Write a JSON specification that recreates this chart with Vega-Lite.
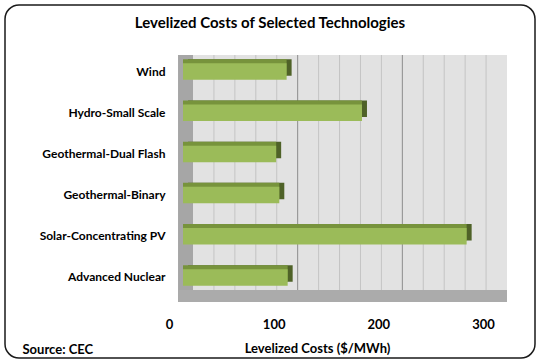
{
  "$schema": "https://vega.github.io/schema/vega-lite/v6.json",
  "width": 530,
  "height": 353,
  "autosize": {"type": "none"},
  "padding": 5,
  "background": "white",
  "config": {
    "view": {"stroke": "#1a1a1a", "strokeWidth": 1.5, "cornerRadius": 14, "fill": "white"},
    "font": "Lato",
    "axis": {"grid": false}
  },
  "title": {
    "text": "Levelized Costs of Selected Technologies",
    "fontSize": 15,
    "font": "Lato",
    "fontWeight": "bold",
    "color": "black",
    "anchor": "middle",
    "frame": "group",
    "dy": 30
  },
  "datasets": {
    "bars": [
      {"tech": "Wind", "cost": 99},
      {"tech": "Hydro-Small Scale", "cost": 171},
      {"tech": "Geothermal-Dual Flash", "cost": 89},
      {"tech": "Geothermal-Binary", "cost": 92},
      {"tech": "Solar-Concentrating PV", "cost": 271},
      {"tech": "Advanced Nuclear", "cost": 100}
    ],
    "grid": [
      {"v": 20, "kind": "minor"},
      {"v": 40, "kind": "minor"},
      {"v": 60, "kind": "minor"},
      {"v": 80, "kind": "minor"},
      {"v": 100, "kind": "major"},
      {"v": 120, "kind": "minor"},
      {"v": 140, "kind": "minor"},
      {"v": 160, "kind": "minor"},
      {"v": 180, "kind": "minor"},
      {"v": 200, "kind": "major"},
      {"v": 220, "kind": "minor"},
      {"v": 240, "kind": "minor"},
      {"v": 260, "kind": "minor"},
      {"v": 280, "kind": "minor"}
    ]
  },
  "resolve": {"scale": {"y": "independent"}},
  "layer": [
    {
      "layer": [
        {
          "data": {"values": [{}]},
          "mark": {"type": "rect", "fill": "#e2e2e2"},
          "encoding": {
            "x": {"datum": 0, "type": "quantitative", "scale": {"domain": [0, 300], "range": [188, 502]}},
            "x2": {"datum": 300},
            "y": {"datum": 0, "type": "quantitative", "scale": {"domain": [0, 1], "range": [285, 50]}, "axis": null},
            "y2": {"datum": 1}
          }
        },
        {
          "data": {"name": "grid"},
          "mark": {"type": "rule", "strokeWidth": 1},
          "encoding": {
            "x": {"field": "v", "type": "quantitative", "title": "Levelized Costs ($/MWh)"},
            "y": {"datum": 0, "type": "quantitative"},
            "y2": {"datum": 1},
            "color": {"field": "kind", "type": "nominal", "scale": {"domain": ["minor", "major"], "range": ["#c4c4c4", "#8c8c8c"]}, "legend": null}
          }
        },
        {
          "data": {"values": [{}]},
          "mark": {"type": "rect", "fill": "#a6a6a6"},
          "encoding": {
            "x": {"datum": -14.3, "type": "quantitative"},
            "x2": {"datum": 0},
            "y": {"datum": -0.051, "type": "quantitative"},
            "y2": {"datum": 1}
          }
        },
        {
          "data": {"values": [{}]},
          "mark": {"type": "rect", "fill": "#ababab"},
          "encoding": {
            "x": {"datum": -14.3, "type": "quantitative"},
            "x2": {"datum": 300},
            "y": {"datum": -0.051, "type": "quantitative"},
            "y2": {"datum": 0}
          }
        }
      ]
    },
    {
      "data": {"name": "bars"},
      "layer": [
        {
          "mark": {"type": "bar", "fill": "#4f6228", "xOffset": -5, "yOffset": -4},
          "encoding": {
            "x": {"field": "cost", "type": "quantitative", "title": "Levelized Costs ($/MWh)"},
            "y": {"field": "tech", "type": "nominal", "sort": null, "title": "Source: CEC",
                  "scale": {"range": [46, 293], "paddingInner": 0.6, "paddingOuter": 0.3}}
          }
        },
        {
          "mark": {"type": "bar", "fill": "#77933c", "xOffset": -10, "yOffset": -4},
          "encoding": {
            "x": {"field": "cost", "type": "quantitative", "title": "Levelized Costs ($/MWh)"},
            "y": {"field": "tech", "type": "nominal", "sort": null, "title": "Source: CEC",
                  "scale": {"range": [46, 293], "paddingInner": 0.6, "paddingOuter": 0.3}}
          }
        },
        {
          "mark": {"type": "bar", "fill": "#9bbb59", "xOffset": -10},
          "encoding": {
            "x": {
              "field": "cost", "type": "quantitative", "title": "Levelized Costs ($/MWh)",
              "axis": {
                "orient": "bottom", "offset": -43, "domain": false, "ticks": false, "tickSize": 0,
                "values": [0, 100, 200, 300], "labelOffset": -24, "labelFlush": false, "labelPadding": 3,
                "labelFont": "Lato", "labelFontSize": 13, "labelFontWeight": "bold", "labelColor": "black",
                "title": "Levelized Costs ($/MWh)", "titleX": 312, "titleY": 37, "titleAlign": "center",
                "titleBaseline": "alphabetic", "titleFont": "Lato", "titleFontSize": 13,
                "titleFontWeight": "bold", "titleColor": "black"
              }
            },
            "y": {
              "field": "tech", "type": "nominal", "sort": null, "title": "Source: CEC",
              "scale": {"range": [46, 293], "paddingInner": 0.6, "paddingOuter": 0.3},
              "axis": {
                "orient": "left", "offset": -162, "domain": false, "ticks": false, "tickSize": 0,
                "labelPadding": 2, "labelFont": "Lato", "labelFontSize": 12, "labelFontWeight": "bold",
                "labelColor": "black", "title": "Source: CEC", "titleAngle": 0, "titleAlign": "left",
                "titleBaseline": "alphabetic", "titleX": -145, "titleY": 348, "titleFont": "Lato",
                "titleFontSize": 13, "titleFontWeight": "bold", "titleColor": "black"
              }
            }
          }
        }
      ]
    }
  ]
}
